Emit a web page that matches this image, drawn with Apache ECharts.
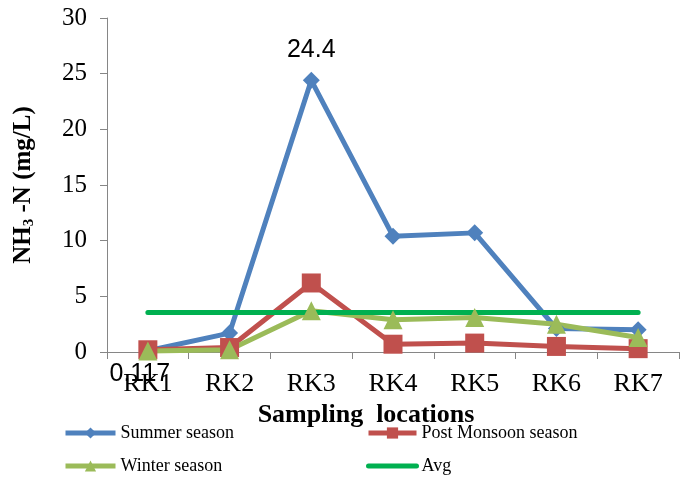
<!DOCTYPE html>
<html>
<head>
<meta charset="utf-8">
<script src="https://cdn.jsdelivr.net/npm/echarts@6/dist/echarts.min.js"></script>
<style>
html,body{margin:0;padding:0;background:#fff;}
#chart{width:686px;height:479px;}
</style>
</head>
<body>
<div id="chart"></div>
<script>
var categories = ['RK1','RK2','RK3','RK4','RK5','RK6','RK7'];
var summer = [0.117, 1.7, 24.4, 10.4, 10.7, 2.1, 2.0];
var postMonsoon = [0.2, 0.4, 6.2, 0.7, 0.8, 0.5, 0.3];
var winter = [0.1, 0.2, 3.7, 2.9, 3.1, 2.5, 1.3];
var avg = [3.54, 3.54, 3.54, 3.54, 3.54, 3.54, 3.54];
var yTicks = [0, 5, 10, 15, 20, 25, 30];

var serif = 'Liberation Serif';
var sans = 'Liberation Sans';
var labelStyle = {fontFamily: sans, fontSize: 25, color: '#000'};

var summerData = summer.map(function (v, i) {
  if (i === 0) return {value: v, label: Object.assign({show: true, position: 'bottom', distance: 2, offset: [-8, 0], formatter: String(v)}, labelStyle)};
  if (i === 2) return {value: v, label: Object.assign({show: true, position: 'top', distance: 9, formatter: String(v)}, labelStyle)};
  return v;
});
var avgData = avg.map(function (v, i) {
  if (i === avg.length - 1) return {value: v, label: Object.assign({show: true, position: 'top', distance: 4, offset: [-29, 0], formatter: v.toFixed(2)}, labelStyle)};
  return v;
});

var chart = echarts.init(document.getElementById('chart'), null, {renderer: 'canvas'});
var legendText = {fontFamily: serif, fontSize: 18, color: '#000'};
function lg(name, left, top, w, extra) {
  var o = {data: [name], left: left, top: top, itemWidth: w, itemHeight: 14, itemGap: 5,
    textStyle: legendText, selectedMode: false, padding: 0, lineStyle: {width: 5}};
  return Object.assign(o, extra || {});
}
chart.setOption({
  animation: false,
  backgroundColor: '#fff',
  grid: {left: 107, right: 7, top: 18, bottom: 127, containLabel: false},
  legend: [
    lg('Summer season', 63, 424, 50),
    lg('Post Monsoon season', 366, 424, 48),
    lg('Winter season', 63, 457, 50),
    lg('Avg', 366, 457, 48, {itemStyle: {opacity: 0}})
  ],
  xAxis: {
    type: 'category',
    data: categories,
    boundaryGap: true,
    axisLine: {lineStyle: {color: '#868686', width: 1}},
    axisTick: {show: true, length: 7, inside: false, lineStyle: {color: '#868686'}},
    axisLabel: {fontFamily: serif, fontSize: 26, color: '#000', margin: 19},
    name: 'Sampling  locations',
    nameLocation: 'middle',
    nameGap: 40,
    nameTextStyle: {fontFamily: serif, fontSize: 26, fontWeight: 'bold', color: '#000', padding: [0, 54, 0, 0]}
  },
  yAxis: {
    type: 'value',
    min: yTicks[0],
    max: yTicks[yTicks.length - 1],
    interval: 5,
    splitLine: {show: false},
    axisLine: {show: true, lineStyle: {color: '#868686', width: 1}},
    axisTick: {show: true, length: 7, lineStyle: {color: '#868686'}},
    axisLabel: {fontFamily: serif, fontSize: 25, color: '#000', margin: 20},
    name: '{b|NH}{s|3}{b| -N (mg/L)}',
    nameLocation: 'middle',
    nameRotate: 90,
    nameGap: 70,
    nameTextStyle: {
      rich: {
        b: {fontFamily: serif, fontSize: 25, fontWeight: 'bold', color: '#000', lineHeight: 26},
        s: {fontFamily: serif, fontSize: 15, fontWeight: 'bold', color: '#000', lineHeight: 10, verticalAlign: 'bottom'}
      }
    }
  },
  series: [
    {name: 'Summer season', type: 'line', data: summerData, color: '#4F81BD',
      symbol: 'diamond', symbolSize: 17, lineStyle: {width: 5, color: '#4F81BD'},
      itemStyle: {color: '#4F81BD'}},
    {name: 'Post Monsoon season', type: 'line', data: postMonsoon, color: '#C0504D',
      symbol: 'rect', symbolSize: 19, lineStyle: {width: 5, color: '#C0504D'},
      itemStyle: {color: '#C0504D'}},
    {name: 'Winter season', type: 'line', data: winter, color: '#9BBB59',
      symbol: 'triangle', symbolSize: 19, lineStyle: {width: 5, color: '#9BBB59'},
      itemStyle: {color: '#9BBB59'}},
    {name: 'Avg', type: 'line', data: avgData, color: '#00B050',
      symbol: 'none', showSymbol: false, lineStyle: {width: 5, color: '#00B050', cap: 'round'},
      itemStyle: {color: '#00B050'}}
  ]
});
</script>
</body>
</html>
